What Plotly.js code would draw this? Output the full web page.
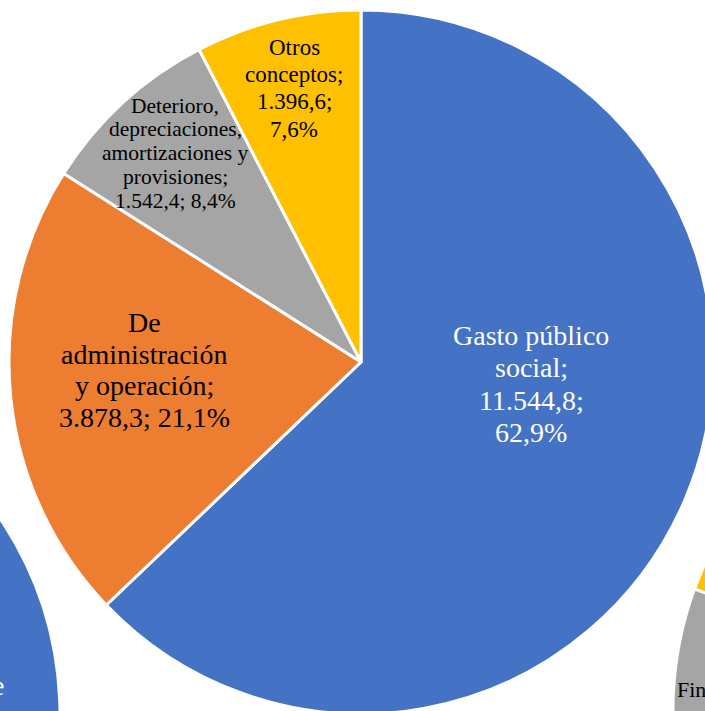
<!DOCTYPE html>
<html><head><meta charset="utf-8">
<script src="https://cdn.plot.ly/plotly-3.0.1.min.js"></script>
<style>
html,body{margin:0;padding:0;overflow:hidden;width:705px;height:711px;background:#fff}
#chart{position:absolute;left:-700px;top:0}
</style>
</head><body><div id="chart"></div>
<script>
// ---- main chart data ----
const categories = ['Gasto público social', 'De administración y operación', 'Deterioro, depreciaciones, amortizaciones y provisiones', 'Otros conceptos'];
const values = [11544.8, 3878.3, 1542.4, 1396.6];
const colors = ['#4472C4', '#ED7D31', '#A5A5A5', '#FFC000'];

// ---- neighbouring charts, only partly visible at the edges ----
const leftCategories = ['Gasto público social', 'De administración y operación', 'Deterioro, depreciaciones, amortizaciones y provisiones', 'Otros conceptos'];
const leftValues = [11600, 3900, 1500, 1300];
const leftFragmentText = 'de';
const rightCategories = ['Gasto público social', 'De administración y operación', 'Financieros', 'Otros conceptos'];
const rightValues = [10200, 2800, 1780, 3560];
const rightFragmentText = 'Financieros;';

// ---- formatting ----
function fmt(v) {
  const s = v.toFixed(1).split('.');
  return s[0].replace(/\B(?=(\d{3})+(?!\d))/g, '.') + ',' + s[1];
}
const total = values.reduce((a, b) => a + b, 0);
const labelTexts = categories.map((c, i) => c + '; ' + fmt(values[i]) + '; ' + (values[i] / total * 100).toFixed(1).replace('.', ',') + '%');

// ---- canvas geometry (page px) ----
const OX = 700, W = 2100, H = 1080, R = 352;
function dom(cx, cy) {
  return {x: [(cx - R + OX) / W, (cx + R + OX) / W], y: [1 - (cy + R) / H, 1 - (cy - R) / H]};
}
const px = x => (x + OX) / W;
const py = y => 1 - y / H;

const line = {color: '#FFFFFF', width: 3};
const base = {type: 'pie', sort: false, direction: 'clockwise', rotation: 0, textinfo: 'none', showlegend: false, hoverinfo: 'label+value+percent'};

const traces = [
  Object.assign({}, base, {labels: categories, values: values, marker: {colors: colors, line: line}, domain: dom(361, 362)}),
  Object.assign({}, base, {labels: leftCategories, values: leftValues, marker: {colors: colors, line: line}, domain: dom(-292, 715)}),
  Object.assign({}, base, {labels: rightCategories, values: rightValues, marker: {colors: colors, line: line}, domain: dom(1025, 710)})
];

// label layout: centre x, first baseline, line step, font size, colour, words per line
const labelPos = [
  {x: 531, y: 345, dy: 32.3, size: 28, color: '#FFFFFF', words: [2, 1, 1, 1]},
  {x: 144, y: 332, dy: 31.7, size: 28, color: '#000000', words: [1, 1, 2, 2]},
  {x: 175, y: 113, dy: 23.75, size: 21.5, color: '#000000', words: [1, 1, 2, 1, 2]},
  {x: 294, y: 55, dy: 27.3, size: 23, color: '#000000', words: [1, 1, 1, 1]}
];
const FONT = 'Liberation Serif, Times New Roman, serif';
const annotations = [];
labelTexts.forEach((t, i) => {
  const p = labelPos[i];
  const w = t.split(' ');
  let k = 0;
  p.words.forEach((n, j) => {
    const txt = w.slice(k, k + n).join(' ');
    k += n;
    annotations.push({xref: 'paper', yref: 'paper', x: px(p.x), y: py(p.y + j * p.dy - 0.34 * p.size),
      xanchor: 'center', yanchor: 'middle', showarrow: false, text: txt,
      font: {family: FONT, size: p.size, color: p.color}});
  });
});
annotations.push({xref: 'paper', yref: 'paper', x: px(6), y: py(695 - 0.34 * 28), xanchor: 'right', yanchor: 'middle',
  showarrow: false, text: leftFragmentText, font: {family: FONT, size: 28, color: '#FFFFFF'}});
annotations.push({xref: 'paper', yref: 'paper', x: px(675), y: py(697 - 0.34 * 22), xanchor: 'left', yanchor: 'middle',
  showarrow: false, text: rightFragmentText, font: {family: FONT, size: 22, color: '#000000'}});

Plotly.newPlot('chart', traces, {
  width: W, height: H, margin: {l: 0, r: 0, t: 0, b: 0},
  paper_bgcolor: '#FFFFFF', plot_bgcolor: '#FFFFFF', annotations: annotations
}, {staticPlot: true, displayModeBar: false});
</script>
</body></html>
